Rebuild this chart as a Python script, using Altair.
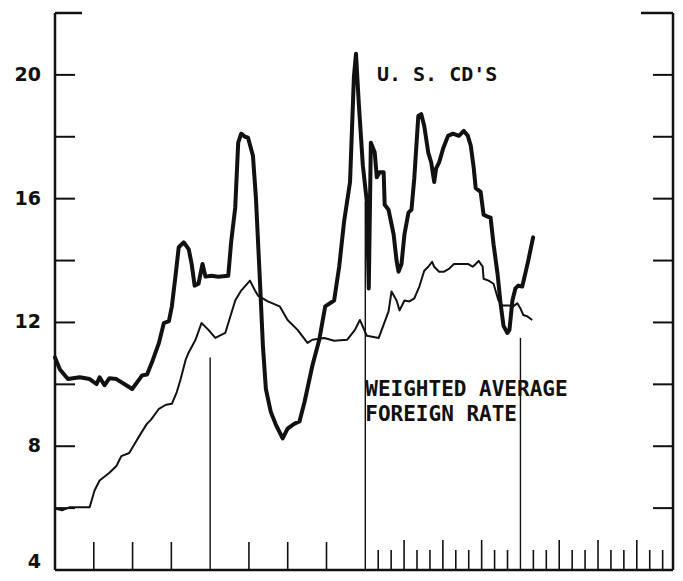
import altair as alt
import pandas as pd

# ---- data (x in tick periods from the left axis, y in percent) ----
cd_t = [0, 0.38, 1.0, 1.91, 2.68, 3.22, 3.45, 3.83, 4.21, 4.75, 5.51, 5.97, 6.36, 6.74, 7.12,
        7.50, 8.04, 8.42, 8.81, 9.04, 9.34, 9.57, 9.95, 10.34, 10.57, 10.80, 11.10, 11.41, 11.64,
        12.10, 12.63, 13.40, 13.63, 13.94, 14.17, 14.40, 14.70, 14.93, 15.31, 15.54, 15.85, 16.08,
        16.31, 16.69, 17.08, 17.61, 17.99, 18.53, 18.91, 19.30, 19.91, 20.44, 20.90, 21.59, 21.98,
        22.36, 22.82, 23.12, 23.28, 23.51, 23.81, 24.12, 24.27, 24.43, 24.73, 24.89, 25.11, 25.42,
        25.50, 25.80, 26.19, 26.42, 26.57, 26.80, 27.03, 27.34, 27.57, 27.79, 28.10, 28.33, 28.56,
        28.87, 29.10, 29.33, 29.48, 29.71, 30.02, 30.40, 30.78, 31.24, 31.62, 31.93, 32.16, 32.39,
        32.54, 32.92, 33.15, 33.46, 33.69, 33.92, 34.23, 34.46, 34.69, 34.99, 35.15, 35.38, 35.61,
        35.83, 36.14, 36.37, 36.60, 36.98]
cd_rate = [10.87, 10.48, 10.17, 10.23, 10.17, 10.01, 10.23, 9.97, 10.20, 10.17, 9.97, 9.85, 10.07,
           10.29, 10.32, 10.71, 11.34, 11.98, 12.04, 12.52, 13.57, 14.43, 14.59, 14.37, 13.89,
           13.19, 13.25, 13.89, 13.48, 13.51, 13.48, 13.51, 14.62, 15.71, 17.81, 18.10, 18.00,
           17.97, 17.39, 16.03, 13.35, 11.25, 9.85, 9.11, 8.70, 8.25, 8.57, 8.73, 8.80, 9.43, 10.61,
           11.44, 12.52, 12.71, 13.80, 15.26, 16.54, 19.94, 20.68, 18.99, 17.08, 15.90, 13.10,
           17.81, 17.49, 16.69, 16.85, 16.85, 15.80, 15.64, 14.85, 13.99, 13.64, 13.89, 14.85,
           15.55, 15.64, 16.66, 18.67, 18.73, 18.35, 17.49, 17.17, 16.54, 16.98, 17.17, 17.62,
           18.03, 18.10, 18.03, 18.19, 18.03, 17.71, 16.98, 16.34, 16.22, 15.48, 15.42, 15.39,
           14.53, 13.57, 12.62, 11.89, 11.66, 11.76, 12.71, 13.10, 13.19, 13.16, 13.57, 13.99, 14.75]

fr_t = [0, 0.54, 1.15, 2.68, 3.06, 3.45, 4.21, 4.75, 5.13, 5.74, 6.28, 6.74, 7.12, 7.43, 8.04,
        8.58, 9.04, 9.42, 9.72, 10.11, 10.34, 10.87, 11.33, 11.87, 12.40, 13.17, 13.94, 14.40,
        15.08, 15.47, 15.70, 16.46, 17.38, 17.99, 18.76, 19.53, 19.91, 20.83, 21.59, 22.59, 23.20,
        23.58, 24.12, 25.04, 25.80, 26.03, 26.42, 26.65, 27.03, 27.41, 27.79, 28.18, 28.56, 28.87,
        29.17, 29.33, 29.71, 30.09, 30.47, 30.86, 31.39, 31.93, 32.31, 32.54, 32.77, 33.08, 33.15,
        33.54, 33.92, 34.30, 34.61, 35.07, 35.45, 35.76, 35.99, 36.22, 36.52, 36.91]
fr_rate = [5.99, 5.93, 6.03, 6.03, 6.57, 6.89, 7.14, 7.36, 7.68, 7.78, 8.16, 8.48, 8.73, 8.86,
           9.21, 9.34, 9.37, 9.75, 10.17, 10.80, 11.03, 11.44, 11.98, 11.76, 11.50, 11.66, 12.71,
           13.03, 13.35, 13.03, 12.87, 12.68, 12.52, 12.08, 11.76, 11.34, 11.44, 11.50, 11.41,
           11.44, 11.76, 12.08, 11.57, 11.50, 12.36, 13.00, 12.71, 12.39, 12.71, 12.68, 12.78,
           13.16, 13.67, 13.80, 13.96, 13.80, 13.64, 13.64, 13.73, 13.89, 13.89, 13.89, 13.80,
           13.89, 13.99, 13.80, 13.41, 13.35, 13.25, 12.71, 12.55, 12.55, 12.52, 12.62, 12.46,
           12.24, 12.20, 12.08]

y_label_values = [8, 12, 16, 20]
y_label_bottom = [4]
y_tick_values = [6, 8, 10, 12, 14, 16, 18, 20]
y_top = [22]
x_ticks_long = [3, 6, 9, 15, 18, 21]
x_ticks_minor = [25, 26, 28, 29, 31, 32, 34, 35, 37, 38, 40, 41, 43, 44, 46, 47]
x_ticks_mid = [27, 30, 33, 39, 42, 45]
divider_t = [12, 24, 36]
divider_top = [10.87, 15.9, 11.5]

labels_cd = ["U. S. CD'S"]
labels_fr = ["WEIGHTED AVERAGE", "FOREIGN RATE"]

W, H = 618, 557
INK = "#111111"

xs = alt.Scale(domain=[0, 47.8], nice=False, zero=False)
ys = alt.Scale(domain=[4, 22], nice=False, zero=False)

cd_df = pd.DataFrame({"t": cd_t, "rate": cd_rate})
fr_df = pd.DataFrame({"t": fr_t, "rate": fr_rate})

cd_line = alt.Chart(cd_df).mark_line(color=INK, strokeWidth=4, strokeJoin="round",
                                     strokeCap="round").encode(
    x=alt.X("t:Q", scale=xs, axis=None),
    y=alt.Y("rate:Q", scale=ys, axis=None),
)
fr_line = alt.Chart(fr_df).mark_line(color=INK, strokeWidth=2, strokeJoin="round").encode(
    x=alt.X("t:Q", scale=xs, axis=None),
    y=alt.Y("rate:Q", scale=ys, axis=None),
)

label_style = dict(font="DejaVu Sans", fontWeight="bold", fontSize=19, color=INK,
                   align="right", baseline="middle")
y_labels = alt.Chart(pd.DataFrame({"v": y_label_values})).mark_text(**label_style).encode(
    y=alt.Y("v:Q", scale=ys, axis=None), x=alt.value(-14), text=alt.Text("v:Q"))
y_label_4 = alt.Chart(pd.DataFrame({"v": y_label_bottom})).mark_text(
    dy=-8, **label_style).encode(
    y=alt.Y("v:Q", scale=ys, axis=None), x=alt.value(-14), text=alt.Text("v:Q"))

ytick_df = pd.DataFrame({"v": y_tick_values})
left_ticks = alt.Chart(ytick_df).mark_rule(color=INK, strokeWidth=2).encode(
    y=alt.Y("v:Q", scale=ys, axis=None), x=alt.value(0), x2=alt.value(20))
right_ticks = alt.Chart(ytick_df).mark_rule(color=INK, strokeWidth=2).encode(
    y=alt.Y("v:Q", scale=ys, axis=None), x=alt.value(W - 20), x2=alt.value(W))
top_df = pd.DataFrame({"v": y_top})
top_left = alt.Chart(top_df).mark_rule(color=INK, strokeWidth=2.5).encode(
    y=alt.Y("v:Q", scale=ys, axis=None), x=alt.value(0), x2=alt.value(27))
top_right = alt.Chart(top_df).mark_rule(color=INK, strokeWidth=2.5).encode(
    y=alt.Y("v:Q", scale=ys, axis=None), x=alt.value(W - 32), x2=alt.value(W))

left_axis = alt.Chart(top_df).mark_rule(color=INK, strokeWidth=2.5).encode(
    x=alt.value(0), y=alt.value(0), y2=alt.value(H))
right_axis = alt.Chart(top_df).mark_rule(color=INK, strokeWidth=2.5).encode(
    x=alt.value(W), y=alt.value(0), y2=alt.value(H))
bottom_axis = alt.Chart(top_df).mark_rule(color=INK, strokeWidth=2.5).encode(
    y=alt.value(H), x=alt.value(0), x2=alt.value(W))


def xticks(vals, length, width=1.6):
    return alt.Chart(pd.DataFrame({"t": vals})).mark_rule(color=INK, strokeWidth=width).encode(
        x=alt.X("t:Q", scale=xs, axis=None), y=alt.value(H), y2=alt.value(H - length))


ticks_long = xticks(x_ticks_long, 28)
ticks_minor = xticks(x_ticks_minor, 20)
ticks_mid = xticks(x_ticks_mid, 30)

div_df = pd.DataFrame({"t": divider_t, "top": divider_top})
dividers = alt.Chart(div_df).mark_rule(color=INK, strokeWidth=1.4).encode(
    x=alt.X("t:Q", scale=xs, axis=None),
    y=alt.Y("top:Q", scale=ys, axis=None),
    y2=alt.value(H),
)

txt_cd = alt.Chart(pd.DataFrame({"label": labels_cd})).mark_text(
    font="DejaVu Sans Mono", fontWeight="bold", fontSize=20, color=INK, align="left",
    baseline="middle").encode(
    x=alt.datum(24.9), y=alt.datum(20.0), text="label:N")
txt_fr = alt.Chart(pd.DataFrame({"label": [labels_fr]})).mark_text(
    font="DejaVu Sans Mono", fontWeight="bold", fontSize=21, color=INK, align="left",
    baseline="middle", lineHeight=25).encode(
    x=alt.datum(24.0), y=alt.datum(9.83), text="label")

chart = alt.layer(
    cd_line, fr_line, y_labels, y_label_4, left_ticks, right_ticks, top_left, top_right,
    left_axis, right_axis, bottom_axis, ticks_long, ticks_minor, ticks_mid, dividers,
    txt_cd, txt_fr
).properties(
    width=W, height=H,
    autosize=alt.AutoSizeParams(type="none"),
    padding={"left": 47, "top": 5, "right": 2, "bottom": 3},
    background="white",
).configure_view(stroke=None)

chart.save("out.html", embed_options={"renderer": "svg", "actions": False})
